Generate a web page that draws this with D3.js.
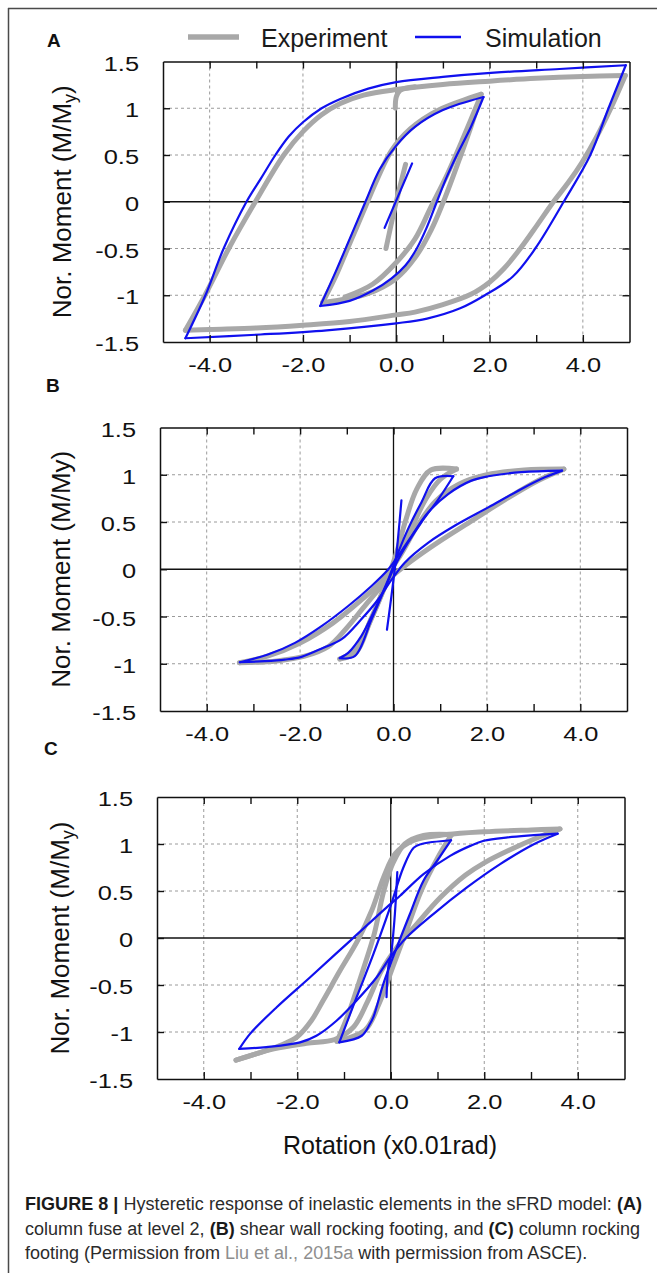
<!DOCTYPE html>
<html><head><meta charset="utf-8">
<script src="https://cdn.jsdelivr.net/npm/d3@7"></script>
<style>
html,body{margin:0;padding:0;background:#fff;}
svg{display:block;font-family:"Liberation Sans",Arial,Helvetica,sans-serif;}
</style></head><body>
<svg id="chart" width="657" height="1273"></svg>
<script>
// ---------- axis / tick definitions ----------
const xDomain = [-5, 5];
const yDomain = [-1.5, 1.5];
const xTickLabels = [-4, -2, 0, 2, 4];
const yTickLabels = [-1.5, -1, -0.5, 0, 0.5, 1, 1.5];
const xMinorTicks = [-4, -3, -2, -1, 0, 1, 2, 3, 4];
const yMinorTicks = [-1, -0.5, 0, 0.5, 1];
const xGridValues = [-4, -2, 2, 4];
const yGridValues = [-1, -0.5, 0.5, 1];
const seriesNames = ["Experiment", "Simulation"];
const panelLetters = ["A", "B", "C"];

// ---------- Panel A: column fuse at level 2 ----------
const A_simOuterUp = [[-4.52,-1.46],[-4.09,-1.0],[-3.7,-0.5],[-3.21,0],[-2.9,0.25],[-2.59,0.5],[-2.3,0.7],[-2.0,0.85],[-1.6,1.0],[-1.2,1.1],[-0.6,1.21],[0,1.28],[1.0,1.335],[2.1,1.38],[3.5,1.42],[4.92,1.46]];
const A_simOuterDown = [[4.92,1.46],[4.55,1.0],[4.16,0.5],[3.59,0],[2.98,-0.5],[2.5,-0.8],[1.9,-1.0],[1.37,-1.14],[0.66,-1.25],[0,-1.3],[-1.49,-1.375],[-2.91,-1.42],[-4.52,-1.46]];
const A_simInnerUp = [[-1.63,-1.115],[-1.3,-0.75],[-1.0,-0.4],[-0.66,0],[-0.35,0.35],[0,0.6],[0.4,0.8],[1.0,0.98],[1.87,1.12]];
const A_simInnerDown = [[1.87,1.12],[1.6,0.8],[1.3,0.5],[1.07,0.25],[0.87,0],[0.65,-0.28],[0.44,-0.5],[0.2,-0.68],[-0.1,-0.82],[-0.5,-0.95],[-1.0,-1.06],[-1.63,-1.115]];
const A_simInit = [[-0.25,-0.28],[0.34,0.41]];
const A_expOuterUp = [[-4.52,-1.375],[-4.1,-1.0],[-3.59,-0.5],[-3.02,0],[-2.41,0.5],[-2.0,0.75],[-1.6,0.93],[-1.2,1.05],[-0.7,1.14],[0,1.2],[1.0,1.255],[2.0,1.29],[3.0,1.32],[4.0,1.34],[4.91,1.35]];
const A_expOuterDown = [[4.91,1.35],[4.6,1.0],[4.28,0.68],[3.98,0.42],[3.68,0.2],[3.37,0],[3.02,-0.25],[2.66,-0.5],[2.3,-0.72],[2.0,-0.86],[1.6,-0.99],[1.0,-1.1],[0.4,-1.18],[0,-1.21],[-1.0,-1.28],[-2.0,-1.32],[-3.0,-1.35],[-4.0,-1.365],[-4.52,-1.375]];
const A_expInit = [[-0.22,-0.5],[0.0,0.0],[0.2,0.4]];
const A_expInnerUp = [[-1.58,-1.08],[-1.3,-0.8],[-1.0,-0.45],[-0.7,-0.1],[-0.4,0.25],[-0.1,0.55],[0.3,0.78],[0.9,0.98],[1.82,1.15]];
const A_expInnerDown = [[1.82,1.15],[1.6,0.8],[1.35,0.45],[1.05,0.05],[0.75,-0.3],[0.4,-0.6],[0,-0.82],[-0.6,-0.98],[-1.58,-1.08]];
const A_expInnerMid = [[1.8,1.12],[1.45,0.7],[1.1,0.3],[0.75,-0.05],[0.4,-0.4],[0.0,-0.65],[-0.5,-0.88],[-1.1,-1.02]];
const A_expHook = [[-0.02,1.0],[0.0,1.12],[0.08,1.19],[0.4,1.23]];

// ---------- Panel B: shear wall rocking footing ----------
const B_simOuterA = [[-3.29,-0.984],[-2.76,-0.973],[-2.33,-0.956],[-1.97,-0.927],[-1.5,-0.83],[-1.11,-0.74],[-0.69,-0.53],[-0.33,-0.32],[-0.04,-0.11],[0.24,0.07],[0.74,0.28],[1.31,0.46],[2.03,0.655],[2.74,0.85],[3.24,0.973],[3.61,1.044]];
const B_simOuterB = [[3.61,1.044],[2.74,1.027],[2.03,0.984],[1.67,0.938],[1.17,0.796],[0.74,0.6],[0.39,0.354],[0.1,0.142],[-0.11,0],[-0.47,-0.177],[-0.97,-0.389],[-1.54,-0.602],[-2.11,-0.779],[-2.69,-0.903],[-3.29,-0.984]];
const B_simInnerA = [[-1.15,-0.94],[-0.83,-0.92],[-0.47,-0.53],[-0.19,-0.21],[0.03,0.035],[0.31,0.28],[0.6,0.5],[0.96,0.74],[1.28,0.984]];
const B_simInnerB = [[1.28,0.984],[0.89,0.963],[0.6,0.71],[0.31,0.425],[0.1,0.177],[-0.11,-0.106],[-0.4,-0.425],[-0.69,-0.708],[-0.97,-0.885],[-1.15,-0.94]];
const B_simInit = [[0.17,0.73],[0.05,0.1],[-0.14,-0.64]];
const B_expOuterA = [[-3.3,-0.99],[-2.5,-0.97],[-1.9,-0.92],[-1.4,-0.82],[-1.0,-0.62],[-0.6,-0.38],[-0.2,-0.15],[0.1,-0.02],[0.5,0.13],[1.0,0.3],[1.7,0.52],[2.4,0.74],[3.1,0.94],[3.65,1.06]];
const B_expOuterB = [[3.65,1.06],[2.8,1.05],[2.0,1.0],[1.4,0.9],[0.9,0.72],[0.5,0.45],[0.15,0.15],[-0.2,-0.1],[-0.7,-0.33],[-1.3,-0.57],[-2.0,-0.78],[-2.7,-0.92],[-3.3,-0.99]];
const B_expInnerA = [[-1.15,-0.95],[-0.8,-0.88],[-0.5,-0.55],[-0.2,-0.2],[0.1,0.15],[0.4,0.45],[0.7,0.75],[1.0,0.95],[1.35,1.06]];
const B_expInnerB = [[1.35,1.06],[0.8,1.05],[0.5,0.85],[0.25,0.5],[0.05,0.15],[-0.2,-0.2],[-0.5,-0.55],[-0.8,-0.85],[-1.15,-0.95]];

// ---------- Panel C: column rocking footing ----------
const C_simOuterA = [[-3.24,-1.18],[-2.66,-1.16],[-1.94,-1.11],[-1.59,-1.04],[-1.16,-0.88],[-0.73,-0.665],[-0.3,-0.418],[-0.01,-0.205],[0.34,0.007],[0.91,0.255],[1.63,0.538],[2.34,0.786],[3.06,0.998],[3.57,1.11]];
const C_simOuterB = [[3.57,1.11],[2.5,1.07],[1.99,1.034],[1.7,0.98],[1.27,0.874],[0.7,0.68],[0.2,0.45],[-0.01,0.36],[-0.87,-0.03],[-1.73,-0.42],[-2.44,-0.736],[-3.01,-1.02],[-3.24,-1.18]];
const C_simInnerA = [[-1.1,-1.11],[-0.73,-0.63],[-0.37,-0.17],[-0.01,0.33],[0.27,0.75],[0.49,0.96],[0.66,1.0],[1.29,1.04]];
const C_simInnerB = [[1.29,1.04],[0.99,0.82],[0.7,0.61],[0.41,0.255],[0.13,-0.1],[-0.16,-0.49],[-0.37,-0.84],[-0.44,-0.91],[-0.62,-1.04],[-1.1,-1.11]];
const C_simInit = [[0.14,0.7],[0.08,0.2],[0.0,-0.2],[-0.05,-0.3],[-0.09,-0.63]];
const C_expOuterA = [[-3.31,-1.3],[-2.8,-1.22],[-2.3,-1.13],[-2.0,-1.05],[-1.7,-0.88],[-1.44,-0.66],[-1.1,-0.36],[-0.7,-0.02],[-0.4,0.3],[-0.15,0.65],[0.1,0.9],[0.5,1.04],[1.2,1.1],[2.0,1.13],[3.0,1.15],[3.62,1.16]];
const C_expOuterB = [[3.62,1.16],[3.2,1.08],[2.6,0.95],[2.0,0.8],[1.6,0.67],[1.06,0.43],[0.56,0.15],[0.13,-0.1],[-0.2,-0.35],[-0.5,-0.68],[-0.8,-0.95],[-1.2,-1.08],[-1.8,-1.12],[-2.5,-1.18],[-3.31,-1.3]];
const C_expInnerA = [[-1.15,-1.1],[-0.9,-0.8],[-0.6,-0.35],[-0.35,0.05],[-0.15,0.5],[0.05,0.8],[0.3,1.0],[0.7,1.09],[1.3,1.1]];
const C_expInnerB = [[1.3,1.1],[1.0,0.85],[0.65,0.5],[0.35,0.1],[0.05,-0.3],[-0.25,-0.7],[-0.55,-0.98],[-1.15,-1.1]];

// ---------- texts ----------
const xAxisTitle = "Rotation (x0.01rad)";
const captionLines = [
  [{t:"FIGURE 8 | ", b:true},{t:"Hysteretic response of inelastic elements in the sFRD model: "},{t:"(A)", b:true}],
  [{t:"column fuse at level 2, "},{t:"(B)", b:true},{t:" shear wall rocking footing, and "},{t:"(C)", b:true},{t:" column rocking"}],
  [{t:"footing (Permission from "},{t:"Liu et al., 2015a", link:true},{t:" with permission from ASCE)."}]
];

// ---------- layout (positions/styles only) ----------
const EXP_COLOR = "#a8a8a8", SIM_COLOR = "#1010ee";
const panels = [
  {letter:panelLetters[0], box:{l:163, r:629.5, t:61.5, b:342}, letterPos:[47,47], ytitleX:71, sub:true,
   exp:[A_expOuterUp, A_expOuterDown, A_expInit, A_expInnerUp, A_expInnerDown, A_expInnerMid, A_expHook],
   sim:[A_simOuterUp, A_simOuterDown, A_simInnerUp, A_simInnerDown, A_simInit]},
  {letter:panelLetters[1], box:{l:160, r:627, t:427.5, b:711}, letterPos:[46,392], ytitleX:70, sub:false,
   exp:[B_expOuterA, B_expOuterB, B_expInnerA, B_expInnerB],
   sim:[B_simOuterA, B_simOuterB, B_simInnerA, B_simInnerB, B_simInit]},
  {letter:panelLetters[2], box:{l:157, r:624.5, t:797, b:1079}, letterPos:[44,755], ytitleX:69, sub:true,
   exp:[C_expOuterA, C_expOuterB, C_expInnerA, C_expInnerB],
   sim:[C_simOuterA, C_simOuterB, C_simInnerA, C_simInnerB, C_simInit]}
];

const svg = d3.select("#chart");

// outer frame (top and left lines)
svg.append("line").attr("x1",8).attr("y1",8.5).attr("x2",657).attr("y2",8.5).attr("stroke","#4a4a4a").attr("stroke-width",1.5);
svg.append("line").attr("x1",8.5).attr("y1",8).attr("x2",8.5).attr("y2",1273).attr("stroke","#4a4a4a").attr("stroke-width",1.5);

// legend
const legend = svg.append("g");
legend.append("line").attr("x1",188).attr("x2",239).attr("y1",37).attr("y2",37).attr("stroke",EXP_COLOR).attr("stroke-width",5.5);
legend.append("text").attr("x",261).attr("y",46.5).attr("font-size",25).attr("fill","#1a1a1a").text(seriesNames[0]);
legend.append("line").attr("x1",415).attr("x2",461).attr("y1",37).attr("y2",37).attr("stroke",SIM_COLOR).attr("stroke-width",2.5);
legend.append("text").attr("x",485).attr("y",46.5).attr("font-size",25).attr("fill","#1a1a1a").text(seriesNames[1]);

panels.forEach(p => {
  const {l, r, t, b} = p.box;
  const x = d3.scaleLinear().domain(xDomain).range([l, r]);
  const y = d3.scaleLinear().domain(yDomain).range([b, t]);
  const g = svg.append("g");

  // panel letter
  g.append("text").attr("x", p.letterPos[0]).attr("y", p.letterPos[1])
    .attr("font-size", 19).attr("font-weight", "bold").attr("fill", "#111").text(p.letter);

  // dashed grid
  g.selectAll(".vg").data(xGridValues).join("line")
    .attr("x1", d => x(d)).attr("x2", d => x(d)).attr("y1", t).attr("y2", b)
    .attr("stroke", "#9a9a9a").attr("stroke-width", 1).attr("stroke-dasharray", "3,3");
  g.selectAll(".hg").data(yGridValues).join("line")
    .attr("y1", d => y(d)).attr("y2", d => y(d)).attr("x1", l).attr("x2", r)
    .attr("stroke", "#9a9a9a").attr("stroke-width", 1).attr("stroke-dasharray", "3,3");

  // zero lines
  g.append("line").attr("x1", x(0)).attr("x2", x(0)).attr("y1", t).attr("y2", b).attr("stroke", "#111").attr("stroke-width", 1.3);
  g.append("line").attr("x1", l).attr("x2", r).attr("y1", y(0)).attr("y2", y(0)).attr("stroke", "#111").attr("stroke-width", 1.3);

  // curves
  const line = d3.line().x(d => x(d[0])).y(d => y(d[1])).curve(d3.curveCatmullRom.alpha(0.5));
  const cg = g.append("g");
  p.exp.forEach(s => cg.append("path").attr("d", line(s)).attr("fill", "none")
    .attr("stroke", EXP_COLOR).attr("stroke-width", 5).attr("stroke-linecap", "round").attr("stroke-linejoin", "round"));
  p.sim.forEach(s => cg.append("path").attr("d", line(s)).attr("fill", "none")
    .attr("stroke", SIM_COLOR).attr("stroke-width", 2.2).attr("stroke-linecap", "round").attr("stroke-linejoin", "round"));

  // frame with inward ticks (axes on all four sides)
  const styleAx = sel => { sel.selectAll("path.domain").attr("stroke", "#111").attr("stroke-width", 1.5);
                           sel.selectAll(".tick line").attr("stroke", "#111").attr("stroke-width", 1.4); };
  g.append("g").attr("transform", `translate(0,${b})`)
    .call(d3.axisBottom(x).tickValues(xMinorTicks).tickSizeInner(-7).tickSizeOuter(0).tickFormat("")).call(styleAx);
  g.append("g").attr("transform", `translate(0,${t})`)
    .call(d3.axisTop(x).tickValues(xMinorTicks).tickSizeInner(-7).tickSizeOuter(0).tickFormat("")).call(styleAx);
  g.append("g").attr("transform", `translate(${l},0)`)
    .call(d3.axisLeft(y).tickValues(yMinorTicks).tickSizeInner(-7).tickSizeOuter(0).tickFormat("")).call(styleAx);
  g.append("g").attr("transform", `translate(${r},0)`)
    .call(d3.axisRight(y).tickValues(yMinorTicks).tickSizeInner(-7).tickSizeOuter(0).tickFormat("")).call(styleAx);

  // tick labels
  const xl = g.append("g").attr("transform", `translate(0,${b})`)
    .call(d3.axisBottom(x).tickValues(xTickLabels).tickSize(0).tickFormat(d => d.toFixed(1)));
  xl.select("path.domain").remove();
  xl.selectAll("text").attr("y", 30).attr("dy", "0").attr("font-size", 20).attr("fill", "#111")
    .attr("font-family", "'Liberation Sans', Arial, sans-serif").attr("transform", "scale(1.27,1)");
  const yl = g.append("g").attr("transform", `translate(${l},0)`)
    .call(d3.axisLeft(y).tickValues(yTickLabels).tickSize(0).tickPadding(24 / 1.27).tickFormat(d => String(d)));
  yl.select("path.domain").remove();
  yl.selectAll("text").attr("dy", "0.43em").attr("font-size", 20).attr("fill", "#111")
    .attr("font-family", "'Liberation Sans', Arial, sans-serif").attr("transform", "scale(1.27,1)");

  // y-axis title
  const yt = g.append("text").attr("transform", `translate(${p.ytitleX},${(t + b) / 2}) rotate(-90)`)
    .attr("text-anchor", "middle").attr("font-size", 26).attr("fill", "#111");
  if (p.sub) {
    yt.append("tspan").text("Nor. Moment (M/M");
    yt.append("tspan").attr("font-size", 18).attr("dy", 5).text("y");
    yt.append("tspan").attr("dy", -5).text(")");
  } else {
    yt.text("Nor. Moment (M/My)");
  }
});

// x-axis title
svg.append("text").attr("x", 390).attr("y", 1153.5).attr("text-anchor", "middle")
  .attr("font-size", 25).attr("fill", "#111").text(xAxisTitle);

// caption
const capBase = [1210, 1235, 1259];
const capLen = [617, 615, null];
captionLines.forEach((ln, i) => {
  const tx = svg.append("text").attr("x", 25).attr("y", capBase[i]).attr("font-size", 18).attr("fill", "#2b2b2b");
  if (capLen[i]) tx.attr("textLength", capLen[i]).attr("lengthAdjust", "spacing");
  ln.forEach(s => {
    const ts = tx.append("tspan").text(s.t);
    if (s.b) ts.attr("font-weight", "bold").attr("fill", "#1a1a1a");
    if (s.link) ts.attr("fill", "#8e8e8e");
  });
});
</script>
</body></html>
